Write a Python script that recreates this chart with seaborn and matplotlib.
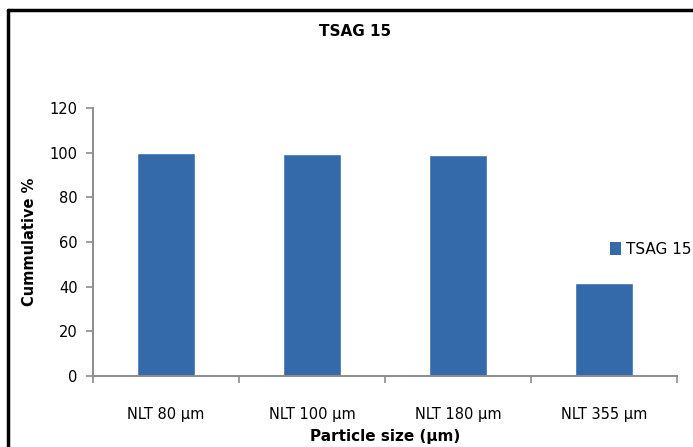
import matplotlib
matplotlib.use("Agg")
import matplotlib.pyplot as plt
from matplotlib.patches import Patch
from matplotlib.lines import Line2D
import seaborn as sns
import pandas as pd

categories = ["NLT 80 µm", "NLT 100 µm", "NLT 180 µm", "NLT 355 µm"]
cumulative = [99.8, 99.3, 99.1, 41.5]
series_name = "TSAG 15"
y_ticks = [0, 20, 40, 60, 80, 100, 120]

sns.set_style("white")
plt.rcParams["font.family"] = ["Liberation Sans Narrow", "DejaVu Sans"]
plt.rcParams["text.color"] = "black"
plt.rcParams["xtick.color"] = "black"
plt.rcParams["ytick.color"] = "black"

bar_color = "#346AAA"
axis_color = "#8C8C8C"

df = pd.DataFrame({"size": categories, "pct": cumulative})

fig = plt.figure(figsize=(6.93, 4.47), dpi=100)
ax = fig.add_axes([93 / 693, 1 - 376 / 447, (677 - 93) / 693, (376 - 108) / 447])

sns.barplot(data=df, x="size", y="pct", color=bar_color, width=0.4,
            saturation=1, ax=ax)

ax.set_xlim(-0.5, len(categories) - 0.5)
ax.set_ylim(0, 120)
ax.set_yticks(y_ticks)
ax.set_xlabel("")
ax.set_ylabel("")

for side in ("top", "right"):
    ax.spines[side].set_visible(False)
for side in ("left", "bottom"):
    ax.spines[side].set_color(axis_color)
    ax.spines[side].set_linewidth(1.4)

# category boundary ticks on the x axis
ax.set_xticks([i - 0.5 for i in range(len(categories) + 1)], minor=True)
ax.tick_params(axis="x", which="major", length=0, pad=22, labelsize=10.5,
               labelcolor="black")
ax.tick_params(axis="x", which="minor", length=5, width=1.2, color=axis_color,
               direction="out", bottom=True)
ax.tick_params(axis="y", which="major", length=5, width=1.2, color=axis_color,
               direction="out", left=True, pad=6, labelsize=10.5,
               labelcolor="black")

fig.text(355 / 693, 1 - 32 / 447, series_name, ha="center", va="center",
         fontsize=11, fontweight="bold", color="black")
fig.text(30 / 693, 1 - 242 / 447, "Cummulative %", ha="center", va="center",
         rotation=90, fontsize=10.5, fontweight="bold", color="black")
fig.text(385 / 693, 1 - 437 / 447, "Particle size (µm)", ha="center",
         va="center", fontsize=11, fontweight="bold", color="black")

handle = Patch(facecolor=bar_color, edgecolor="none", label=series_name)
fig.legend(handles=[handle], loc="center left",
           bbox_to_anchor=(610 / 693, 1 - 249 / 447), frameon=False,
           handlelength=0.75, handleheight=0.9, handletextpad=0.3,
           fontsize=11, borderpad=0, borderaxespad=0, labelcolor="black")

# frame lines along the top and left edges
fig.add_artist(Line2D([8 / 693, 1.0], [1 - 10 / 447, 1 - 10 / 447],
                      transform=fig.transFigure, color="black", lw=2.5))
fig.add_artist(Line2D([8 / 693, 8 / 693], [0.0, 1 - 10 / 447],
                      transform=fig.transFigure, color="black", lw=2.5))

fig.savefig("out.png", dpi=100)
